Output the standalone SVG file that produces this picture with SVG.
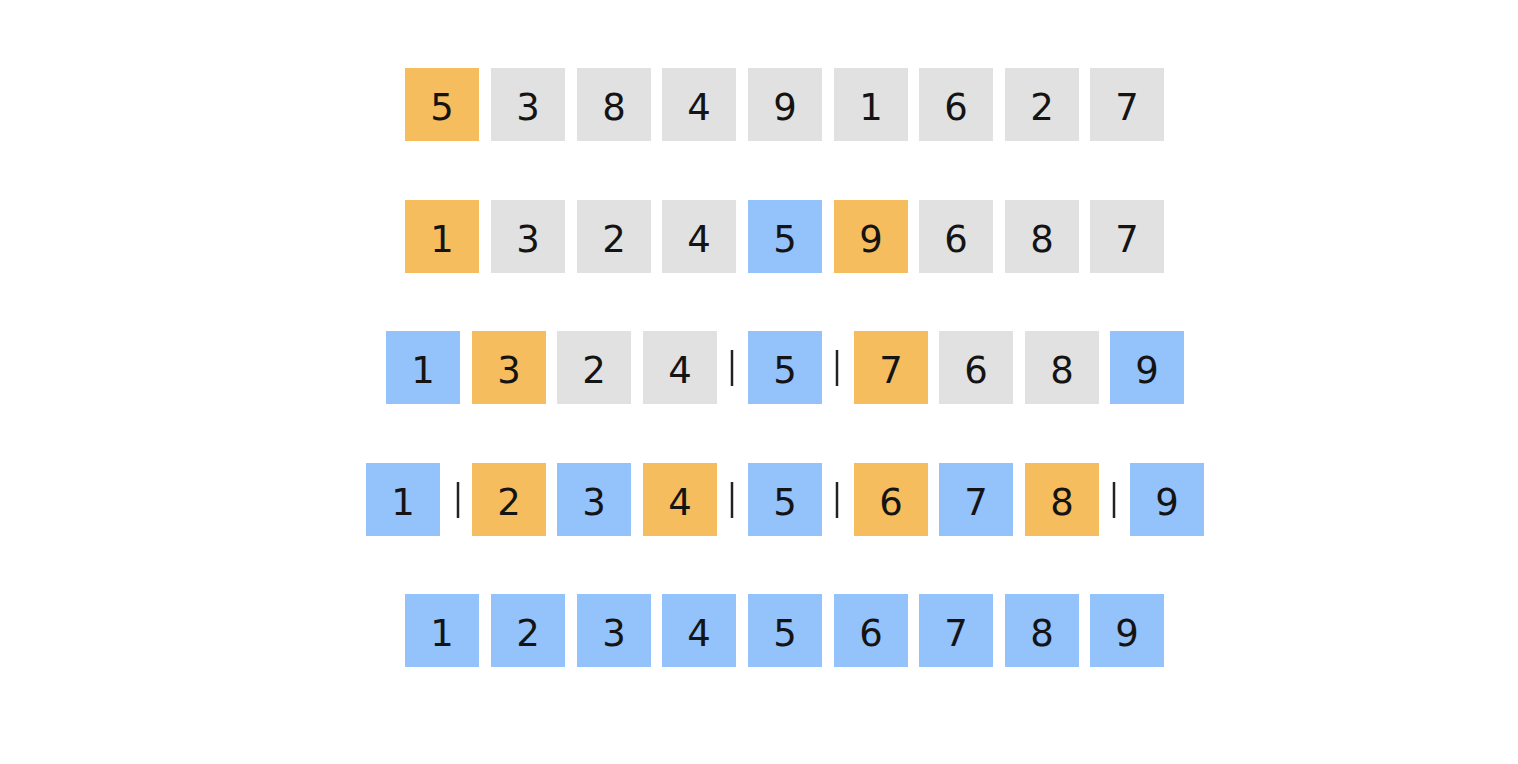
<svg xmlns="http://www.w3.org/2000/svg" width="1518" height="764" viewBox="0 0 1518 764">
<style>
rect.o{fill:#F5BD5E}
rect.g{fill:#E1E1E1}
rect.b{fill:#94C2FA}
text{font-family:"DejaVu Sans","Noto Sans",sans-serif;font-size:37px;fill:#141414;text-anchor:middle}
line.sep{stroke:#222;stroke-width:2.5}
</style>
<rect width="1518" height="764" fill="#ffffff"/>
<g id="row1">
<g id="r1c1"><rect class="o" x="405" y="68" width="74" height="73"/><text x="442" y="120">5</text></g>
<g id="r1c2"><rect class="g" x="491" y="68" width="74" height="73"/><text x="528" y="120">3</text></g>
<g id="r1c3"><rect class="g" x="577" y="68" width="74" height="73"/><text x="614" y="120">8</text></g>
<g id="r1c4"><rect class="g" x="662" y="68" width="74" height="73"/><text x="699" y="120">4</text></g>
<g id="r1c5"><rect class="g" x="748" y="68" width="74" height="73"/><text x="785" y="120">9</text></g>
<g id="r1c6"><rect class="g" x="834" y="68" width="74" height="73"/><text x="871" y="120">1</text></g>
<g id="r1c7"><rect class="g" x="919" y="68" width="74" height="73"/><text x="956" y="120">6</text></g>
<g id="r1c8"><rect class="g" x="1005" y="68" width="74" height="73"/><text x="1042" y="120">2</text></g>
<g id="r1c9"><rect class="g" x="1090" y="68" width="74" height="73"/><text x="1127" y="120">7</text></g>
</g>
<g id="row2">
<g id="r2c1"><rect class="o" x="405" y="200" width="74" height="73"/><text x="442" y="252">1</text></g>
<g id="r2c2"><rect class="g" x="491" y="200" width="74" height="73"/><text x="528" y="252">3</text></g>
<g id="r2c3"><rect class="g" x="577" y="200" width="74" height="73"/><text x="614" y="252">2</text></g>
<g id="r2c4"><rect class="g" x="662" y="200" width="74" height="73"/><text x="699" y="252">4</text></g>
<g id="r2c5"><rect class="b" x="748" y="200" width="74" height="73"/><text x="785" y="252">5</text></g>
<g id="r2c6"><rect class="o" x="834" y="200" width="74" height="73"/><text x="871" y="252">9</text></g>
<g id="r2c7"><rect class="g" x="919" y="200" width="74" height="73"/><text x="956" y="252">6</text></g>
<g id="r2c8"><rect class="g" x="1005" y="200" width="74" height="73"/><text x="1042" y="252">8</text></g>
<g id="r2c9"><rect class="g" x="1090" y="200" width="74" height="73"/><text x="1127" y="252">7</text></g>
</g>
<g id="row3">
<g id="r3c1"><rect class="b" x="386" y="331" width="74" height="73"/><text x="423" y="383">1</text></g>
<g id="r3c2"><rect class="o" x="472" y="331" width="74" height="73"/><text x="509" y="383">3</text></g>
<g id="r3c3"><rect class="g" x="557" y="331" width="74" height="73"/><text x="594" y="383">2</text></g>
<g id="r3c4"><rect class="g" x="643" y="331" width="74" height="73"/><text x="680" y="383">4</text></g>
<g id="r3c5"><rect class="b" x="748" y="331" width="74" height="73"/><text x="785" y="383">5</text></g>
<g id="r3c6"><rect class="o" x="854" y="331" width="74" height="73"/><text x="891" y="383">7</text></g>
<g id="r3c7"><rect class="g" x="939" y="331" width="74" height="73"/><text x="976" y="383">6</text></g>
<g id="r3c8"><rect class="g" x="1025" y="331" width="74" height="73"/><text x="1062" y="383">8</text></g>
<g id="r3c9"><rect class="b" x="1110" y="331" width="74" height="73"/><text x="1147" y="383">9</text></g>
</g>
<g id="row4">
<g id="r4c1"><rect class="b" x="366" y="463" width="74" height="73"/><text x="403" y="515">1</text></g>
<g id="r4c2"><rect class="o" x="472" y="463" width="74" height="73"/><text x="509" y="515">2</text></g>
<g id="r4c3"><rect class="b" x="557" y="463" width="74" height="73"/><text x="594" y="515">3</text></g>
<g id="r4c4"><rect class="o" x="643" y="463" width="74" height="73"/><text x="680" y="515">4</text></g>
<g id="r4c5"><rect class="b" x="748" y="463" width="74" height="73"/><text x="785" y="515">5</text></g>
<g id="r4c6"><rect class="o" x="854" y="463" width="74" height="73"/><text x="891" y="515">6</text></g>
<g id="r4c7"><rect class="b" x="939" y="463" width="74" height="73"/><text x="976" y="515">7</text></g>
<g id="r4c8"><rect class="o" x="1025" y="463" width="74" height="73"/><text x="1062" y="515">8</text></g>
<g id="r4c9"><rect class="b" x="1130" y="463" width="74" height="73"/><text x="1167" y="515">9</text></g>
</g>
<g id="row5">
<g id="r5c1"><rect class="b" x="405" y="594" width="74" height="73"/><text x="442" y="646">1</text></g>
<g id="r5c2"><rect class="b" x="491" y="594" width="74" height="73"/><text x="528" y="646">2</text></g>
<g id="r5c3"><rect class="b" x="577" y="594" width="74" height="73"/><text x="614" y="646">3</text></g>
<g id="r5c4"><rect class="b" x="662" y="594" width="74" height="73"/><text x="699" y="646">4</text></g>
<g id="r5c5"><rect class="b" x="748" y="594" width="74" height="73"/><text x="785" y="646">5</text></g>
<g id="r5c6"><rect class="b" x="834" y="594" width="74" height="73"/><text x="871" y="646">6</text></g>
<g id="r5c7"><rect class="b" x="919" y="594" width="74" height="73"/><text x="956" y="646">7</text></g>
<g id="r5c8"><rect class="b" x="1005" y="594" width="74" height="73"/><text x="1042" y="646">8</text></g>
<g id="r5c9"><rect class="b" x="1090" y="594" width="74" height="73"/><text x="1127" y="646">9</text></g>
</g>
<g id="separators">
<line class="sep" x1="732" y1="350" x2="732" y2="386"/>
<line class="sep" x1="837" y1="350" x2="837" y2="386"/>
<line class="sep" x1="458" y1="482" x2="458" y2="518"/>
<line class="sep" x1="732" y1="482" x2="732" y2="518"/>
<line class="sep" x1="837" y1="482" x2="837" y2="518"/>
<line class="sep" x1="1114" y1="482" x2="1114" y2="518"/>
</g>
</svg>
